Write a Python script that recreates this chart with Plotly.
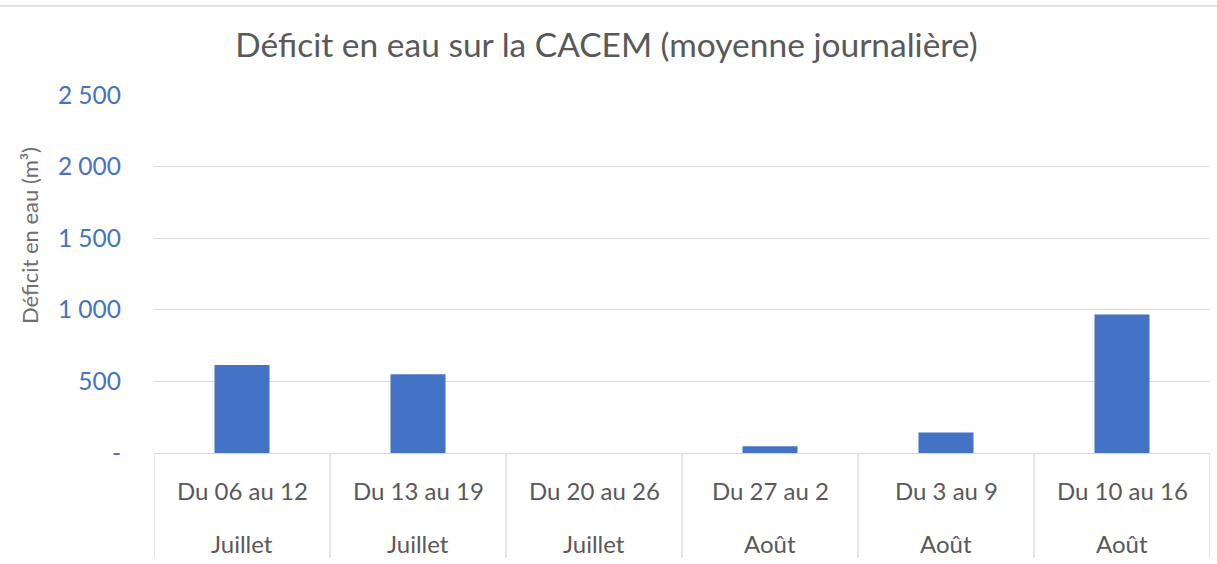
import plotly.graph_objects as go

periods = ["Du 06 au 12", "Du 13 au 19", "Du 20 au 26", "Du 27 au 2", "Du 3 au 9", "Du 10 au 16"]
months = ["Juillet", "Juillet", "Juillet", "Août", "Août", "Août"]
deficit = [614, 550, 0, 47, 144, 968]
y_ticks = [0, 500, 1000, 1500, 2000, 2500]
y_ticktext = ["-", "500", "1 000", "1 500", "2 000", "2 500"]

FONT = "Lato"
GRAY = "#595959"
BLUE = "#4472C4"
GRID = "#D9D9D9"

W, H = 1217, 564
mt, mb, ml, mr = 95, 111, 154, 7
ph = H - mt - mb

fig = go.Figure(go.Bar(
    x=list(range(len(periods))), y=deficit,
    marker=dict(color=BLUE, line=dict(width=0)),
    hoverinfo="y",
))

def py(pix):
    # pixel y in page -> paper y
    return (H - mb - pix) / ph

shapes = []
for i in range(len(periods) + 1):
    shapes.append(dict(type="line", xref="x", yref="paper",
                       x0=i - 0.5, x1=i - 0.5, y0=0, y1=py(558),
                       line=dict(color=GRID, width=1.3)))
shapes.append(dict(type="line", xref="paper", yref="paper",
                   x0=-ml / (W - ml - mr), x1=(W - ml) / (W - ml - mr),
                   y0=py(6), y1=py(6), line=dict(color=GRID, width=1.3)))

annotations = []
for i, (p, m) in enumerate(zip(periods, months)):
    annotations.append(dict(x=i, y=py(490), xref="x", yref="paper", text=p,
                            showarrow=False, font=dict(family=FONT, size=24, color=GRAY),
                            xanchor="center", yanchor="middle"))
    annotations.append(dict(x=i, y=py(543), xref="x", yref="paper", text=m,
                            showarrow=False, font=dict(family=FONT, size=24, color=GRAY),
                            xanchor="center", yanchor="middle"))
annotations.append(dict(x=-(ml - 30) / (W - ml - mr), y=py(236), xref="paper", yref="paper",
                        text="Déficit en eau (m³)", textangle=-90, showarrow=False,
                        font=dict(family=FONT, size=22, color="#6E6E6E"),
                        xanchor="center", yanchor="middle"))

fig.update_layout(
    width=W, height=H,
    margin=dict(t=mt, b=mb, l=ml, r=mr, pad=0),
    paper_bgcolor="white", plot_bgcolor="white",
    showlegend=False,
    bargap=0.6875,
    title=dict(text="Déficit en eau sur la CACEM (moyenne journalière)",
               x=(233 + 980) / 2 / W, xanchor="center", y=1 - 45 / H, yanchor="middle",
               font=dict(family=FONT, size=33.5, color=GRAY)),
    xaxis=dict(range=[-0.5, len(periods) - 0.5], showticklabels=False, ticks="",
               showgrid=False, zeroline=False, showline=True, linecolor=GRID, linewidth=1.3),
    yaxis=dict(range=[0, 2500], tickvals=y_ticks, ticktext=y_ticktext,
               showgrid=True, gridcolor=GRID, gridwidth=1.3, zeroline=False,
               showline=False, ticks="", ticklabelstandoff=32,
               tickfont=dict(family=FONT, size=24.5, color=BLUE)),
    shapes=shapes,
    annotations=annotations,
)

fig.write_html("out.html", config={"displayModeBar": False},
               post_script="document.body.style.margin='0';")
